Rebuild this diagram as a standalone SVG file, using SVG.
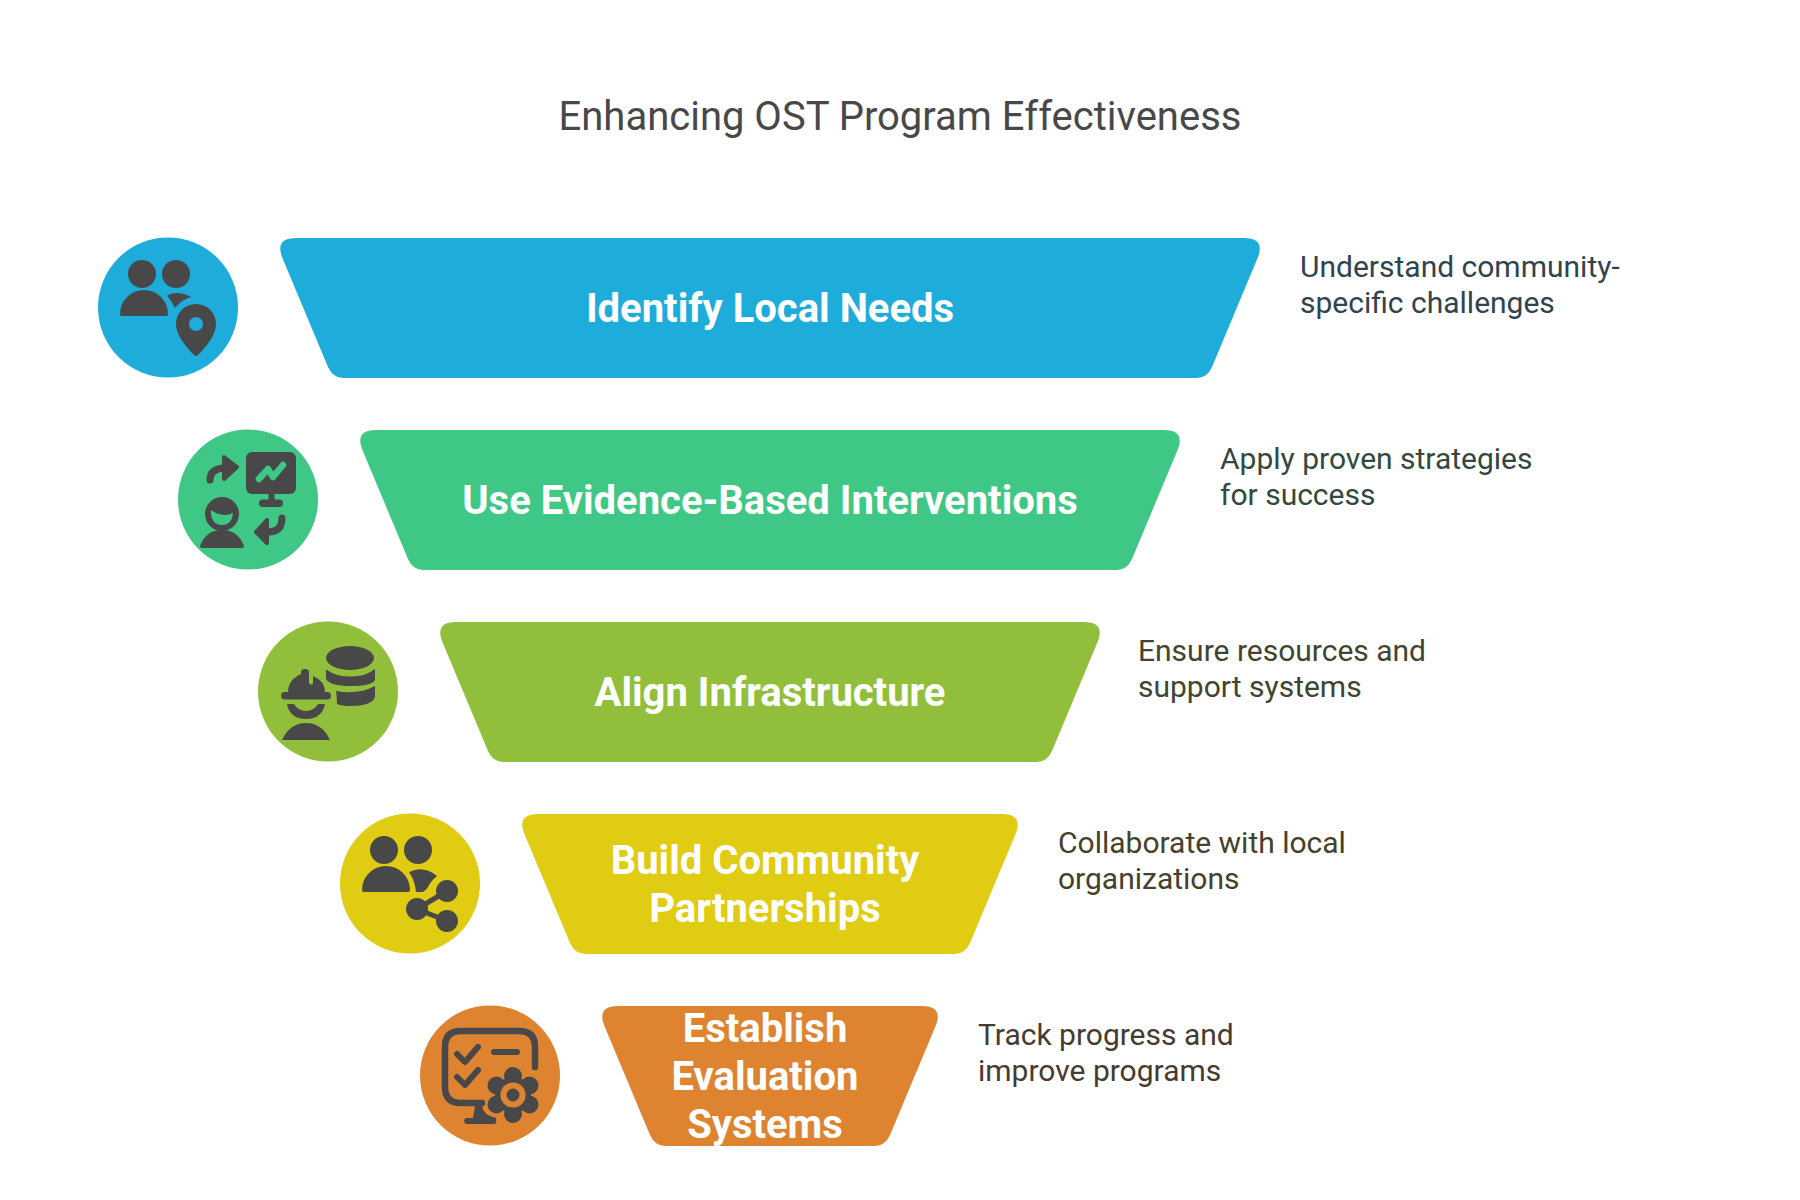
<svg xmlns="http://www.w3.org/2000/svg" width="1800" height="1200" viewBox="0 0 1800 1200">
<style>
text{font-family:Roboto,"Liberation Sans",sans-serif}
.title{font-size:40px;fill:#484848;text-anchor:middle}
.lab{font-size:40px;font-weight:700;fill:#fff;text-anchor:middle}
.desc{font-size:30px}
.ic{fill:#484848}
.ln{fill:none;stroke:#484848;stroke-linecap:round;stroke-linejoin:round}
</style>
<rect width="1800" height="1200" fill="#fff"/>
<text class="title" x="900" y="130">Enhancing OST Program Effectiveness</text>
<g id="connectors"/>

<g id="node-identify-local-needs">
<circle cx="168" cy="307.500" r="70" fill="#1eacdb"/>
<path d="M296 238H1244Q1265 238 1258 257L1212 367Q1207 378 1197 378H343Q333 378 328 367L282 257Q275 238 296 238Z" fill="#1eacdb"/>
<g class="ic">
<circle cx="142" cy="274" r="14"/><circle cx="176" cy="274" r="14"/>
<path d="M120 314A24 24 0 0 1 168 314Q168 316 166 316H122Q120 316 120 314Z"/>
<path d="M167 295.500Q178 290 191 297Q181 300 175 308Q172 301 167 295.500Z"/>
<path d="M196 304A20 20 0 0 1 216 324C216 336 204 349 198 355Q196 357 194 355C188 349 176 336 176 324A20 20 0 0 1 196 304Z"/>
</g>
<circle cx="196" cy="324" r="7" fill="#1eacdb"/>
<text class="lab" x="770" y="322">Identify Local Needs</text>
<text class="desc" fill="#2f444e"><tspan x="1300" y="276.500">Understand community-</tspan><tspan x="1300" y="312.500">specific challenges</tspan></text>
</g>

<g id="node-evidence-based">
<circle cx="248" cy="499.500" r="70" fill="#3ec785"/>
<path d="M376 430H1164Q1185 430 1178 449L1132 559Q1127 570 1117 570H423Q413 570 408 559L362 449Q355 430 376 430Z" fill="#3ec785"/>
<rect class="ic" x="246" y="452" width="50" height="42" rx="6"/>
<rect class="ic" x="268.500" y="492" width="6" height="10"/>
<rect class="ic" x="259" y="499.500" width="24" height="7.500" rx="3.700"/>
<path d="M259 479L268 469L273 477L283 465" fill="none" stroke="#3ec785" stroke-width="6.500" stroke-linecap="round" stroke-linejoin="round"/>
<path class="ln" d="M210 480Q210 468 226 468" stroke-width="7"/>
<path class="ic" d="M224 457L237 467L224 479Z" stroke="#484848" stroke-width="4" stroke-linejoin="round"/>
<circle class="ic" cx="222" cy="514" r="17"/>
<path d="M210.700 510Q222 518 233 513Q232 525 222 525Q211 525 210.700 510Z" fill="#3ec785"/>
<path class="ic" d="M200 546Q206 530 222 530Q238 530 244 546Q244 548 242 548H202Q200 548 200 546Z"/>
<path class="ln" d="M282 518Q282 532 268 532" stroke-width="7"/>
<path class="ic" d="M267 520L256 532L267 543Z" stroke="#484848" stroke-width="4" stroke-linejoin="round"/>
<text class="lab" x="770" y="514">Use Evidence-Based Interventions</text>
<text class="desc" fill="#33483f"><tspan x="1220" y="468.500">Apply proven strategies</tspan><tspan x="1220" y="504.500">for success</tspan></text>
</g>

<g id="node-align-infrastructure">
<circle cx="328" cy="691.500" r="70" fill="#92bf3b"/>
<path d="M456 622H1084Q1105 622 1098 641L1052 751Q1047 762 1037 762H503Q493 762 488 751L442 641Q435 622 456 622Z" fill="#92bf3b"/>
<g class="ic">
<ellipse cx="350" cy="658" rx="24" ry="12"/>
<path d="M326 669.500Q337 677 350 676.500Q365 677 375 669V680Q372 686 350 686Q330 686 326 679Z"/>
<path d="M336 691Q358 695 375 686V697Q372 706 350 706Q342 706 337 704Q337 697 336 691Z"/>
<rect x="281" y="692" width="50" height="7.500" rx="3.700"/>
<path d="M288 692Q288 680 301 674V672Q301 669 305 669Q309 669 309 672V683Q311 686 313 683V676Q325 681 325 692Z"/>
<path d="M287 704H294Q298 711 306 711Q314 711 318 704H325Q322 719 306 719Q290 719 287 704Z"/>
<path d="M282 740Q290 723 306 723Q322 723 330 740Z"/>
</g>
<text class="lab" x="770" y="706">Align Infrastructure</text>
<text class="desc" fill="#3f4530"><tspan x="1138" y="660.500">Ensure resources and</tspan><tspan x="1138" y="696.500">support systems</tspan></text>
</g>

<g id="node-community-partnerships">
<circle cx="410" cy="883.500" r="70" fill="#dfcc13"/>
<path d="M538 814H1002Q1023 814 1016 833L970 943Q965 954 955 954H585Q575 954 570 943L524 833Q517 814 538 814Z" fill="#dfcc13"/>
<g class="ic">
<circle cx="384" cy="850" r="14"/><circle cx="418" cy="850" r="14"/>
<path d="M362 890A24 24 0 0 1 410 890Q410 892 408 892H364Q362 892 362 890Z"/>
<path d="M409 872Q424 865 437 876Q430 882 428 887Q425 892 421 892H416Q415 881 409 872Z"/>
<circle cx="447" cy="891" r="11"/><circle cx="417" cy="909" r="11"/><circle cx="447" cy="921" r="11"/>
</g>
<path class="ln" d="M447 891L417 909L447 921" stroke-width="5"/>
<text class="lab"><tspan x="765" y="873.500">Build Community</tspan><tspan x="765" y="921.500">Partnerships</tspan></text>
<text class="desc" fill="#45412a"><tspan x="1058" y="852.500">Collaborate with local</tspan><tspan x="1058" y="888.500">organizations</tspan></text>
</g>

<g id="node-evaluation-systems">
<circle cx="490" cy="1075.500" r="70" fill="#de8431"/>
<path d="M618 1006H922Q943 1006 936 1025L890 1135Q885 1146 875 1146H665Q655 1146 650 1135L604 1025Q597 1006 618 1006Z" fill="#de8431"/>
<path class="ln" d="M535 1067V1047Q535 1031 519 1031H461Q445 1031 445 1047V1087Q445 1103 461 1103H482" stroke-width="6.500"/>
<path class="ln" d="M457 1054L465 1062L478 1047M457 1077L465 1085L478 1070M494 1052H517" stroke-width="6"/>
<path class="ic" d="M475 1106H482Q483 1115 496 1118Q497 1124 494 1124H466Q462 1121 466 1118H473Z"/>
<g class="ic">
<circle cx="513" cy="1095" r="18"/>
<circle cx="513" cy="1076" r="9"/><circle cx="513" cy="1114" r="9"/>
<circle cx="529.500" cy="1085.500" r="9"/><circle cx="529.500" cy="1104.500" r="9"/>
<circle cx="496.500" cy="1085.500" r="9"/><circle cx="496.500" cy="1104.500" r="9"/>
</g>
<circle cx="513" cy="1095" r="12.600" fill="#de8431"/>
<circle class="ic" cx="513" cy="1095" r="6.500"/>
<text class="lab"><tspan x="765" y="1041.500">Establish</tspan><tspan x="765" y="1089.500">Evaluation</tspan><tspan x="765" y="1137.500">Systems</tspan></text>
<text class="desc" fill="#463b30"><tspan x="978" y="1044.500">Track progress and</tspan><tspan x="978" y="1080.500">improve programs</tspan></text>
</g>
</svg>
